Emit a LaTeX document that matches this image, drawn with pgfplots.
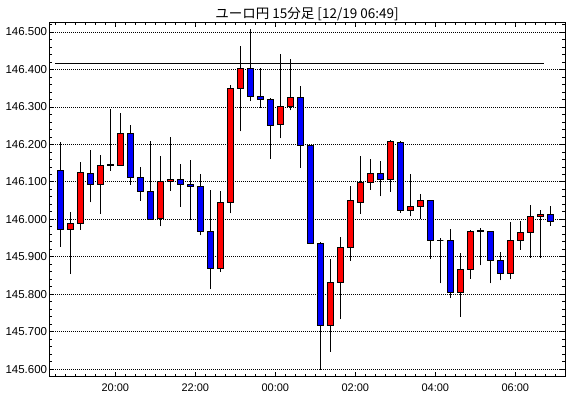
\documentclass[border=0pt]{standalone}
\usepackage{pgfplots}
\pgfplotsset{compat=1.18}
\usepackage{pgfplotstable}
\usepackage{fontspec}
\setmainfont{Liberation Sans}
\newfontfamily\cjk{Noto Sans CJK JP}
\definecolor{upred}{RGB}{255,0,0}
\definecolor{dnblue}{RGB}{0,0,255}

\pgfplotstableread{
i o h l c
0 146.131 146.206 145.927 145.974
1 145.974 146.019 145.854 145.990
2 145.990 146.153 145.972 146.126
3 146.123 146.186 146.045 146.094
4 146.094 146.172 146.014 146.143
5 146.143 146.294 146.130 146.146
6 146.144 146.284 146.144 146.230
7 146.230 146.252 146.093 146.113
8 146.113 146.140 146.049 146.074
9 146.074 146.210 146.000 146.000
10 146.002 146.170 145.981 146.101
11 146.101 146.220 146.077 146.107
12 146.107 146.148 146.034 146.094
13 146.094 146.159 145.997 146.089
14 146.089 146.122 145.957 145.968
15 145.968 146.079 145.813 145.870
16 145.870 146.076 145.859 146.046
17 146.046 146.358 146.016 146.350
18 146.350 146.464 146.235 146.403
19 146.403 146.508 146.315 146.329
20 146.329 146.404 146.296 146.321
21 146.321 146.323 146.161 146.251
22 146.254 146.442 146.216 146.302
23 146.302 146.428 146.291 146.326
24 146.326 146.357 146.138 146.197
25 146.197 146.199 145.934 145.936
26 145.936 145.939 145.598 145.716
27 145.716 145.894 145.647 145.832
28 145.832 145.954 145.733 145.926
29 145.926 146.090 145.890 146.049
30 146.046 146.170 146.014 146.099
31 146.099 146.161 146.079 146.123
32 146.123 146.156 146.061 146.107
33 146.107 146.211 146.074 146.209
34 146.206 146.209 146.018 146.024
35 146.024 146.122 146.008 146.033
36 146.033 146.068 146.000 146.049
37 146.049 146.049 145.894 145.943
38 145.943 145.951 145.829 145.943
39 145.943 145.975 145.791 145.805
40 145.805 145.910 145.740 145.865
41 145.865 145.972 145.842 145.968
42 145.968 145.976 145.877 145.970
43 145.968 145.970 145.829 145.891
44 145.891 145.912 145.837 145.856
45 145.856 145.993 145.840 145.943
46 145.943 145.996 145.919 145.966
47 145.966 146.039 145.897 146.008
48 146.008 146.025 145.896 146.014
49 146.014 146.036 145.983 145.994
}\candles

\begin{document}
\begin{tikzpicture}
\begin{axis}[
  at={(49.3pt,21.3pt)}, anchor=south west,
  scale only axis, width=515.7pt, height=354.4pt,
  xmin=-1.1, xmax=50.47,
  ymin=145.580, ymax=146.526,
  axis line style={black, line width=0.9pt},
  xtick={5.5,13.5,21.5,29.5,37.5,45.5},
  xticklabels={20:00,22:00,00:00,02:00,04:00,06:00},
  minor xtick={-0.5,0.5,...,50.5},
  ytick={145.6,145.7,145.8,145.9,146.0,146.1,146.2,146.3,146.4,146.5},
  minor ytick={145.62,145.64,145.66,145.68,145.72,145.74,145.76,145.78,145.82,145.84,145.86,145.88,145.92,145.94,145.96,145.98,146.02,146.04,146.06,146.08,146.12,146.14,146.16,146.18,146.22,146.24,146.26,146.28,146.32,146.34,146.36,146.38,146.42,146.44,146.46,146.48,146.52},
  tick pos=both,
  xticklabel pos=bottom, yticklabel pos=left,
  major tick length=5pt, minor tick length=3pt,
  tick style={black, line width=0.8pt},
  ymajorgrids, xmajorgrids=false,
  major grid style={black, line width=0.8pt, dash pattern=on 1pt off 1pt},
  scaled y ticks=false,
  /pgf/number format/assume math mode=true,
  yticklabel style={font=\fontsize{11.5}{12}\selectfont, anchor=east, inner sep=0pt, xshift=-2pt,
    /pgf/number format/.cd, fixed, fixed zerofill, precision=3, 1000 sep={}},
  xticklabel style={font=\fontsize{11}{12}\selectfont, anchor=north, inner sep=0pt, yshift=-6.6pt},
  clip=true,
]
\addplot[black, line width=1pt, mark=none] coordinates {(-0.53,146.416) (48.4,146.416)};
\pgfplotsinvokeforeach{0,...,49}{
  \pgfplotstablegetelem{#1}{o}\of\candles \let\O\pgfplotsretval
  \pgfplotstablegetelem{#1}{h}\of\candles \let\H\pgfplotsretval
  \pgfplotstablegetelem{#1}{l}\of\candles \let\L\pgfplotsretval
  \pgfplotstablegetelem{#1}{c}\of\candles \let\C\pgfplotsretval
  \pgfmathsetmacro\lo{min(\O,\C)}
  \pgfmathsetmacro\hi{max(\O,\C)}
  \pgfmathsetmacro\xa{#1-0.3}
  \pgfmathsetmacro\xb{#1+0.3}
  \pgfmathtruncatemacro\dir{\C>\O ? 1 : (\C<\O ? 2 : 0)}
  \ifcase\dir\relax \def\col{black}\or \def\col{upred}\else \def\col{dnblue}\fi
  \edef\doplot{%
    \noexpand\addplot[black, line width=1pt, mark=none] coordinates {(#1,\L) (#1,\H)};
    \noexpand\addplot[draw=black, fill=\col, line width=1pt, mark=none, line join=miter]
      coordinates {(\xa,\lo) (\xb,\lo) (\xb,\hi) (\xa,\hi) (\xa,\lo)};}
  \doplot
}
\end{axis}
\node[anchor=base, font=\cjk\fontsize{13.5}{13.5}\selectfont, inner sep=0pt] at (307pt,379.7pt) {ユーロ円 15分足 [12/19 06:49]};
\pgfresetboundingbox
\path[use as bounding box] (0,0) rectangle (570pt,398pt);
\end{tikzpicture}
\end{document}
